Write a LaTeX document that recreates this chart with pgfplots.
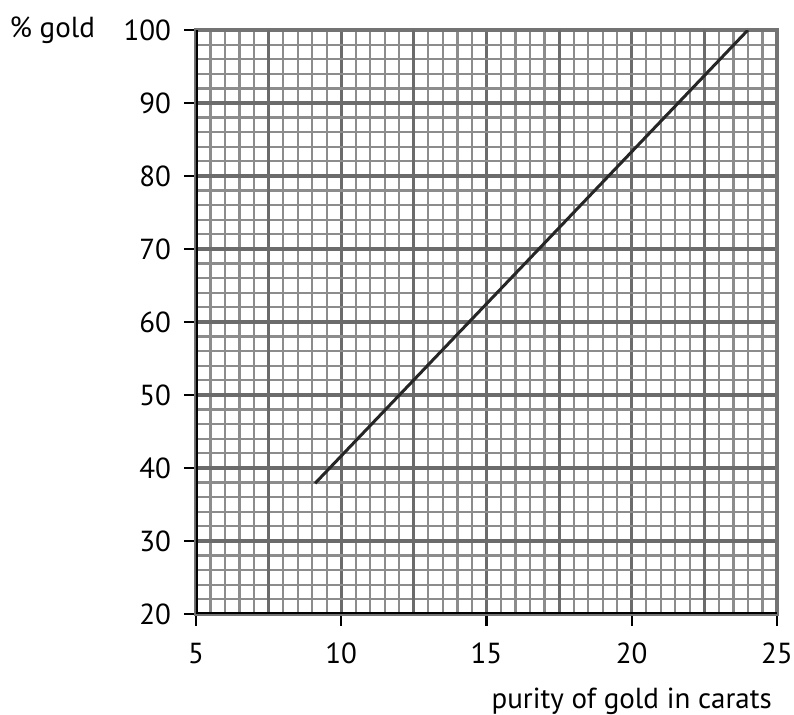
\documentclass[border=0pt]{standalone}
\usepackage{pgfplots}
\pgfplotsset{compat=1.18}
\usepackage{fontspec}
\setmainfont{PT Sans}
\begin{document}
\begin{tikzpicture}
\path[use as bounding box] (-98pt,-50.5pt) rectangle (299pt,307pt);
\begin{axis}[
  at={(0,0)}, anchor=south west,
  scale only axis, width=290.5pt, height=292pt,
  xmin=5, xmax=25, ymin=20, ymax=100,
  xtick={5,10,...,25}, ytick={20,30,...,100},
  minor xtick={5.5,6,...,24.5}, minor ytick={22,24,...,98},
  extra x ticks={7.5,12.5,17.5,22.5}, extra x tick labels={,,,},
  extra x tick style={major tick length=0pt, grid=major},
  grid=both,
  minor grid style={black!45, line width=1.1pt},
  major grid style={black!58, line width=1.6pt},
  minor tick length=0pt,
  major tick length=6pt,
  tick align=outside,
  xtick pos=left, ytick pos=left,
  tick style={black, line width=1.1pt},
  axis line style={black!55, line width=1.6pt},
  /pgf/number format/assume math mode=true,
  font=\fontsize{14.5}{17}\selectfont,
  xticklabel style={yshift=-5pt},
  yticklabel style={xshift=-3pt},
  ylabel={\% gold},
  ylabel style={rotate=-90, at={(rel axis cs:0,1)}, anchor=east, xshift=-47pt},
  xlabel={purity of gold in carats},
  xlabel style={at={(rel axis cs:1,0)}, anchor=east, yshift=-43.5pt, xshift=1pt},
]
\addplot[black!85, line width=1.5pt] coordinates {(9.1,37.9) (24,100)};
\draw[black, line width=1.9pt] (axis cs:5,100) -- (axis cs:5,20) -- (axis cs:25,20);
\end{axis}
\end{tikzpicture}
\end{document}
